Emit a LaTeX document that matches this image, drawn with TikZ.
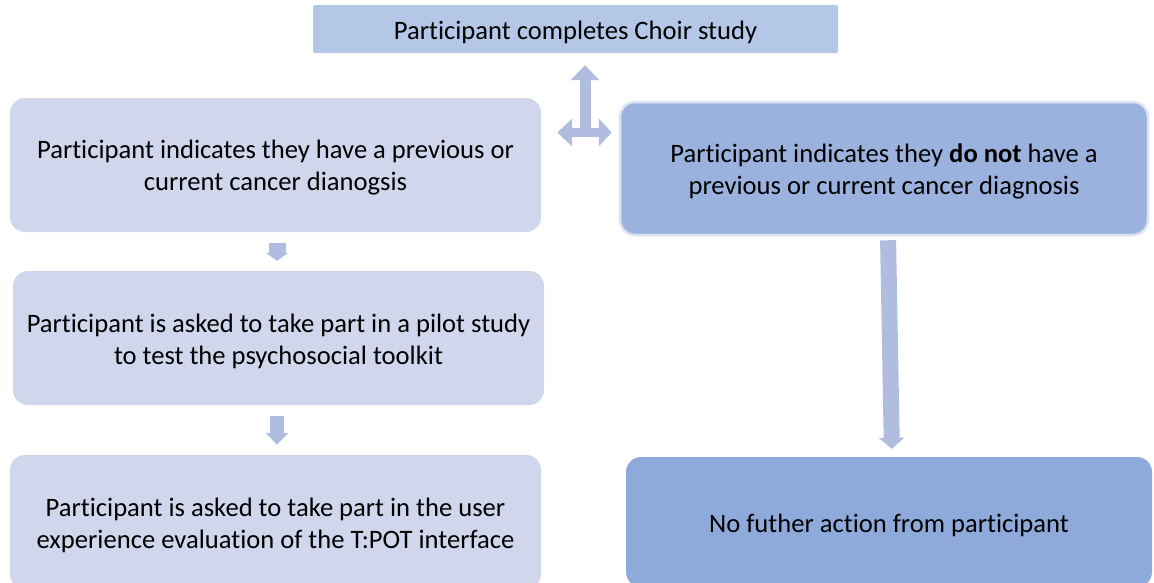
\documentclass[tikz,border=0pt]{standalone}
\usepackage{fontspec}
\setmainfont{Carlito}[Ligatures={NoCommon,NoRare,NoContextual},Contextuals=NoAlternate]
\usetikzlibrary{arrows.meta,calc}
\definecolor{topfill}{HTML}{B4C7E7}
\definecolor{leftfill}{HTML}{D0D7EC}
\definecolor{rightfill}{HTML}{9BB2DF}
\definecolor{endfill}{HTML}{8EAADB}
\definecolor{rim}{HTML}{DCE3F2}
\definecolor{arrowfill}{HTML}{B0BDE0}
\tikzset{
  txt/.style={font=\fontsize{26.6}{32}\selectfont, align=center, text=black, inner sep=0pt, yshift=-3pt},
  topbox/.style={fill=topfill, rounded corners=2pt, inner sep=0pt},
  leftbox/.style={fill=leftfill, rounded corners=15pt, minimum width=531pt, minimum height=134pt, inner sep=0pt},
  rightbox/.style={fill=rightfill, draw=rim, line width=2.5pt, rounded corners=15pt, minimum width=528pt, minimum height=133pt, inner sep=0pt},
  endbox/.style={fill=endfill, rounded corners=15pt, minimum width=526pt, minimum height=130pt, inner sep=0pt},
  blockarrow/.style={draw=arrowfill, line cap=butt}
}
\begin{document}
\begin{tikzpicture}[x=1pt,y=-1pt]
\useasboundingbox (0,0) rectangle (1154,582);
\clip (0,0) rectangle (1154,582);

% process boxes, each with its text centred inside
\node[topbox, minimum width=525pt, minimum height=48pt,
  label={[txt]center:Participant completes Choir study}] (choir) at (575.5,29) {};
\node[leftbox,
  label={[txt]center:{Participant indicates they have a previous or\\current cancer dianogsis}}] (cancer) at (275.5,165) {};
\node[leftbox,
  label={[txt]center:{Participant is asked to take part in a pilot study\\to test the psychosocial toolkit}}] (pilot) at (278.5,338) {};
\node[leftbox,
  label={[txt]center:{Participant is asked to take part in the user\\experience evaluation of the T:POT interface}}] (user) at (275.5,522) {};
\node[rightbox,
  label={[txt]center:{Participant indicates they \textbf{do not} have a\\previous or current cancer diagnosis}}] (nodiag) at (884,168.5) {};
\node[endbox,
  label={[txt]center:No futher action from participant}] (nofurther) at (889,522) {};

% three-way arrow between the study and the two outcomes
\coordinate (hub) at (585,132.5);
\draw[blockarrow, line width=11pt, -{Triangle[width=28pt,length=15pt]}, shorten >=12pt]
  ($(hub)+(0,4.5)$) -- (hub |- choir.south);
\draw[blockarrow, line width=9.5pt, {Triangle[width=27pt,length=15pt]}-{Triangle[width=27pt,length=13pt]}, shorten <=16pt, shorten >=7pt]
  (cancer.east |- hub) -- (nodiag.west |- hub);

% downward flow arrows
\draw[blockarrow, line width=17pt, -{Triangle[width=22pt,length=8pt]}, shorten <=11pt, shorten >=10pt]
  ($(cancer.south)+(1.5,0)$) -- ($(cancer.south |- pilot.north)+(1.5,0)$);
\draw[blockarrow, line width=14pt, -{Triangle[width=22pt,length=12pt]}, shorten <=11pt, shorten >=10pt]
  ($(pilot.south)+(-1.5,0)$) -- ($(pilot.south |- user.north)+(-1.5,0)$);
\draw[blockarrow, line width=16pt, -{Triangle[width=25pt,length=11pt]}, shorten <=4pt, shorten >=8pt]
  ($(nodiag.south)+(4,0)$) -- ($(nofurther.north)+(3,0)$);
\end{tikzpicture}
\end{document}
